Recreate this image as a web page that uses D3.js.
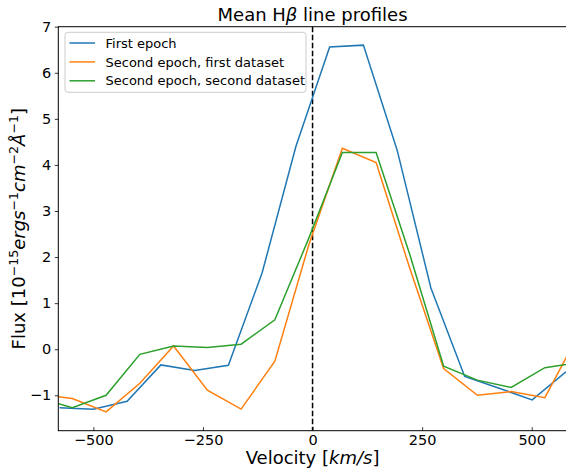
<!DOCTYPE html>
<html>
<head>
<meta charset="utf-8">
<script src="https://cdn.jsdelivr.net/npm/d3@7"></script>
<style>
  html, body { margin: 0; padding: 0; background: #fff; }
  svg { display: block; font-family: "DejaVu Sans", sans-serif; }
</style>
</head>
<body>
<svg id="chart" width="566" height="472"></svg>
<script>
// ---- data ----
const velFirst = [-577, -500, -423, -346, -269, -192, -115, -38, 39, 116, 193, 270, 347, 424, 501, 578];
const fluxFirst = [-1.27, -1.30, -1.13, -0.34, -0.46, -0.35, 1.66, 4.40, 6.56, 6.60, 4.32, 1.33, -0.59, -0.84, -1.10, -0.49];
const velSecond = [-625, -548, -471, -394, -317, -240, -163, -86, -9, 68, 145, 222, 299, 376, 453, 530, 607];
const fluxSecondFirst = [-0.98, -1.07, -1.36, -0.74, 0.07, -0.89, -1.30, -0.26, 2.25, 4.36, 4.05, 1.75, -0.42, -1.00, -0.92, -1.05, 0.33];
const fluxSecondSecond = [-1.05, -1.27, -1.00, -0.11, 0.07, 0.04, 0.11, 0.64, 2.40, 4.27, 4.27, 2.05, -0.37, -0.67, -0.83, -0.40, -0.29];
const seriesNames = ["First epoch", "Second epoch, first dataset", "Second epoch, second dataset"];
const seriesColors = ["#1f77b4", "#ff7f0e", "#2ca02c"];
const xTicks = [-500, -250, 0, 250, 500];
const yTicks = [-1, 0, 1, 2, 3, 4, 5, 6, 7];

// ---- layout ----
const L = 58.3, R = 566.8, T = 26.7, B = 430.7;
const svg = d3.select("#chart");
const x = d3.scaleLinear().domain([-580, 580]).range([L, R]);
const y = d3.scaleLinear().domain([-1.768, 7.0]).range([B, T]);
const fmt = v => (v < 0 ? "\u2212" + Math.abs(v) : "" + v);

svg.append("defs").append("clipPath").attr("id", "clip")
  .append("rect").attr("x", L).attr("y", T).attr("width", R - L).attr("height", B - T);

// zero line
svg.append("line")
  .attr("x1", x(0)).attr("x2", x(0)).attr("y1", T).attr("y2", B)
  .attr("stroke", "#000").attr("stroke-width", 1.5).attr("stroke-dasharray", "5.5,2.5");

// series
const series = [
  { v: velFirst, f: fluxFirst },
  { v: velSecond, f: fluxSecondFirst },
  { v: velSecond, f: fluxSecondSecond }
];
const line = d3.line().x(d => x(d[0])).y(d => y(d[1]));
const gLines = svg.append("g").attr("clip-path", "url(#clip)");
series.forEach((s, i) => {
  gLines.append("path")
    .datum(s.v.map((v, j) => [v, s.f[j]]))
    .attr("d", line)
    .attr("fill", "none")
    .attr("stroke", seriesColors[i])
    .attr("stroke-width", 1.5)
    .attr("stroke-linejoin", "miter");
});

// axes
const xAxis = d3.axisBottom(x).tickValues(xTicks).tickFormat(fmt).tickSizeInner(-3.5).tickSizeOuter(0).tickPadding(4);
const gx = svg.append("g").attr("transform", `translate(0,${B})`).call(xAxis);
gx.select(".domain").remove();
gx.selectAll("text").attr("font-size", "14.5px").attr("font-family", "DejaVu Sans").attr("fill", "#000");
gx.selectAll("line").attr("stroke", "#000").attr("stroke-width", 0.8);

const yAxis = d3.axisLeft(y).tickValues(yTicks).tickFormat(fmt).tickSizeInner(3.5).tickSizeOuter(0).tickPadding(3.5);
const gy = svg.append("g").attr("transform", `translate(${L},0)`).call(yAxis);
gy.select(".domain").remove();
gy.selectAll("text").attr("font-size", "14.5px").attr("font-family", "DejaVu Sans").attr("fill", "#000");
gy.selectAll("line").attr("stroke", "#000").attr("stroke-width", 0.8);

// spines
svg.append("rect").attr("x", L).attr("y", T).attr("width", R - L).attr("height", B - T)
  .attr("fill", "none").attr("stroke", "#000").attr("stroke-width", 1);

// title
const title = svg.append("text").attr("x", (L + R) / 2).attr("y", 20.5)
  .attr("text-anchor", "middle").attr("font-size", "18px").attr("fill", "#000");
title.append("tspan").text("Mean H");
title.append("tspan").attr("font-style", "italic").text("\u03b2");
title.append("tspan").text(" line profiles");

// x label
const xl = svg.append("text").attr("x", (L + R) / 2).attr("y", 464)
  .attr("text-anchor", "middle").attr("font-size", "18px").attr("fill", "#000");
xl.append("tspan").text("Velocity [");
xl.append("tspan").attr("font-style", "italic").text("km/s");
xl.append("tspan").text("]");

// y label
const yl = svg.append("text")
  .attr("transform", `translate(25,${(T + B) / 2}) rotate(-90)`)
  .attr("text-anchor", "middle").attr("font-size", "18px").attr("fill", "#000");
const parts = [
  ["Flux [10", "n"], ["\u221215", "s"], ["ergs", "i"], ["\u22121", "s"],
  ["cm", "i"], ["\u22122", "s"], ["\u00c5", "i"], ["\u22121", "s"], ["]", "n"]
];
let prevSup = false;
parts.forEach(([t, k]) => {
  const ts = yl.append("tspan").text(t);
  if (k === "s") {
    ts.attr("font-size", "12.6px").attr("dy", prevSup ? 0 : -7.5);
    prevSup = true;
  } else {
    if (prevSup) ts.attr("dy", 7.5);
    prevSup = false;
    if (k === "i") ts.attr("font-style", "italic");
  }
});

// legend
const lg = svg.append("g");
lg.append("rect").attr("x", 65).attr("y", 32.3).attr("width", 241).attr("height", 60)
  .attr("rx", 3).attr("fill", "#fff").attr("fill-opacity", 0.8)
  .attr("stroke", "#cccccc").attr("stroke-width", 1);
seriesNames.forEach((n, i) => {
  const yy = 43 + i * 18.9;
  lg.append("line").attr("x1", 69.5).attr("x2", 95).attr("y1", yy).attr("y2", yy)
    .attr("stroke", seriesColors[i]).attr("stroke-width", 1.5);
  lg.append("text").attr("x", 105.5).attr("y", yy + 4.6)
    .attr("font-size", "13px").attr("fill", "#000").text(n);
});
</script>
</body>
</html>
